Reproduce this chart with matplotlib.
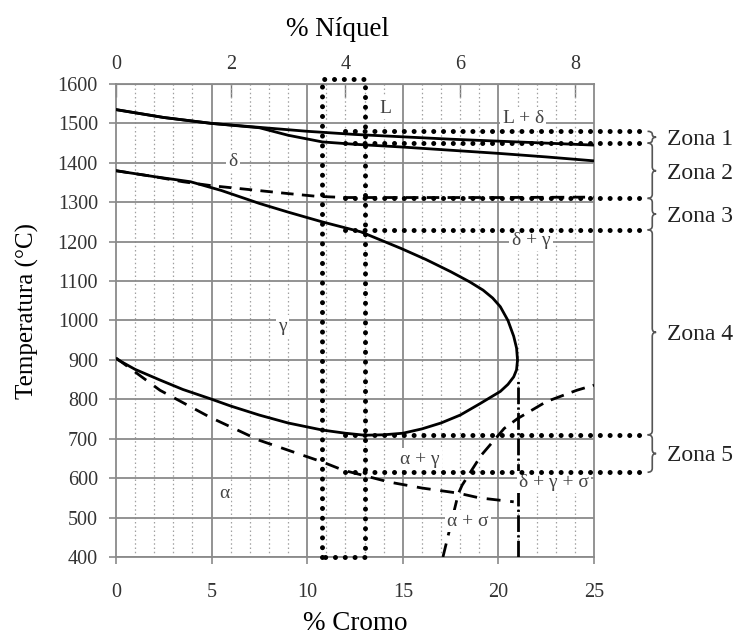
import numpy as np
import matplotlib
matplotlib.use("Agg")
import matplotlib.pyplot as plt
from matplotlib.path import Path
from matplotlib.patches import PathPatch

plt.rcParams['font.family'] = ['Liberation Serif', 'DejaVu Serif']

# ---------------- data ----------------
cr_liq = [0, 2.5, 5, 7.5, 10, 12.5, 15, 17.5, 20, 22.5, 25]
t_liq = [1535, 1515, 1500, 1490, 1480, 1472, 1466, 1460, 1455, 1450, 1445]

cr_sol = [0, 2.5, 5, 7.5, 9, 10.8, 12.5, 15, 17.5, 20, 22.5, 25]
t_sol = [1535, 1515, 1500, 1489, 1470, 1453, 1447, 1440, 1432, 1424, 1415, 1405]

cr_gam = [0, 2, 3.9, 5.5, 7.5, 9, 10.8, 12.8, 14.9, 16.2, 17.5, 18.5, 19.2, 19.7, 20.1,
          20.5, 20.8, 20.95, 21.0, 20.95, 20.8, 20.5, 20.1,
          19.0, 18.0, 17.0, 16.0, 15.0, 14.0, 13.0, 12.0, 10.8, 9.0, 7.5, 6.0, 4.9, 3.5, 2.3, 1.0, 0]
t_gam = [1380, 1365, 1352, 1330, 1297, 1275, 1250, 1225, 1183, 1155, 1124, 1098, 1077, 1057, 1035,
         1000, 960, 930, 900, 875, 857, 838, 820,
         788, 760, 740, 725, 714, 710, 709, 714, 722, 740, 760, 783, 802, 825, 849, 876, 903]

cr_dd = [0, 2, 3.5, 5, 7, 9, 10.5, 12, 15, 20, 25]
t_dd = [1380, 1365, 1352, 1342, 1332, 1322, 1315, 1312, 1312, 1312, 1313]

cr_ag = [0, 2.3, 4.9, 7.5, 10.8, 11.9, 14.3, 16, 17.9, 19, 20.8]
t_ag = [905, 823, 755, 696, 641, 620, 590, 575, 562, 550, 540]

cr_sig = [17.1, 17.5, 17.9, 18.1, 19.1, 20.3, 21, 22.5, 24.1, 25]
t_sig = [400, 480, 560, 582, 658, 726, 751, 794, 823, 836]

cr_v = [21, 21]
t_v = [400, 850]

window_cr = [10.8, 13.0]
window_t = [400, 1612]

zone_temps = [1480, 1450, 1310, 1230, 710, 615]
zone_names = ["Zona 1", "Zona 2", "Zona 3", "Zona 4", "Zona 5"]
zone_start_cr = 12.0
zone_end_cr = 27.75

phase_labels = ["L", "L + δ", "δ", "γ", "δ + γ", "α + γ", "δ + γ + σ", "α", "α + σ"]
phase_cr = [14.1, 21.3, 6.1, 8.7, 21.7, 15.9, 22.9, 5.65, 18.4]
phase_t = [1539, 1513, 1404, 986, 1204, 648, 590, 560, 491]

cr_ticks = [0, 5, 10, 15, 20, 25]
t_ticks = list(range(400, 1601, 100))
ni_ticks = [0, 2, 4, 6, 8]

# ---------------- figure ----------------
fig = plt.figure(figsize=(7.44, 6.38), dpi=100)
ax = fig.add_axes([116/744, 1-557/638, (594-116)/744, (557-84)/638])
ax.set_xlim(0, 25)
ax.set_ylim(400, 1600)

gcol = '#8a8a8a'
for x in range(1, 25):
    if x % 5:
        ax.axvline(x, color='#a0a0a0', lw=0.9, ls=(0, (1.2, 2.2)), zorder=1)
for x in [5, 10, 15, 20]:
    ax.axvline(x, color=gcol, lw=1.3, zorder=1)
for t in t_ticks:
    ax.axhline(t, color=gcol, lw=1.3, zorder=1)
for s in ax.spines.values():
    s.set_color(gcol)
    s.set_linewidth(1.3)

ax.set_xticks(cr_ticks)
ax.set_yticks(t_ticks)
ax.tick_params(axis='x', length=5, width=1.2, color=gcol, pad=14, labelsize=14.5, labelcolor='#333333')
ax.tick_params(axis='y', length=5, width=1.2, color=gcol, pad=8, labelsize=14.5, labelcolor='#333333')

sec = ax.secondary_xaxis('top', functions=(lambda c: np.asarray(c) / 3.0, lambda n: np.asarray(n) * 3.0))
sec.set_xticks(ni_ticks)
sec.tick_params(direction='in', length=9, width=1.0, color='#777777', pad=7, labelsize=14.5, labelcolor='#333333')
sec.spines['top'].set_color(gcol)

lw = 2.0
ax.plot(cr_liq, t_liq, color='black', lw=lw, zorder=4)
ax.plot(cr_sol, t_sol, color='black', lw=lw, zorder=4)
ax.plot(cr_gam, t_gam, color='black', lw=lw, zorder=4)
ax.plot(cr_dd, t_dd, color='black', lw=lw, dashes=(4.5, 3), zorder=4)
ax.plot(cr_ag, t_ag, color='black', lw=lw, dashes=(5, 3.5), zorder=4)
ax.plot(cr_sig, t_sig, color='black', lw=lw, dashes=(5, 3), zorder=4)
ax.plot(cr_v, t_v, color='black', lw=lw, dashes=(6, 1.2, 0.8, 1.2), zorder=4)

dot = dict(color='black', lw=3.6, ls=(0, (0.01, 1.95)), dash_capstyle='round',
           solid_capstyle='round', clip_on=False, zorder=6)
# window rectangle
ax.plot([window_cr[0], window_cr[0], window_cr[1], window_cr[1], window_cr[0]],
        [window_t[0], window_t[1], window_t[1], window_t[0], window_t[0]], **dot)
# zone lines
for zt in zone_temps:
    ax.plot([zone_start_cr, zone_end_cr], [zt, zt], **dot)

# braces
def brace(y_top, y_bot, x0=27.8, w=0.45):
    xm = x0 + w * 0.55
    xt = x0 + w
    ym = (y_top + y_bot) / 2
    r = min(10, (y_top - y_bot) / 4)
    verts = [(x0, y_top), (xm, y_top), (xm, y_top - r),
             (xm, ym + r), (xm, ym), (xt, ym),
             (xm, ym), (xm, ym - r),
             (xm, y_bot + r), (xm, y_bot), (x0, y_bot)]
    codes = [Path.MOVETO, Path.CURVE3, Path.CURVE3,
             Path.LINETO, Path.CURVE3, Path.CURVE3,
             Path.CURVE3, Path.CURVE3,
             Path.LINETO, Path.CURVE3, Path.CURVE3]
    p = PathPatch(Path(verts, codes), fill=False, ec='#555555', lw=1.2,
                  transform=ax.transData, clip_on=False, zorder=6)
    ax.add_patch(p)
    return ym

bounds = [(zone_temps[i], zone_temps[i + 1]) for i in range(len(zone_temps) - 1)]
for name, (yt, yb) in zip(zone_names, bounds):
    ym = brace(yt, yb)
    ax.text(28.8, ym - 6, name, fontsize=17, va='center', ha='left',
            color='#222222', clip_on=False)

for lab, c, t in zip(phase_labels, phase_cr, phase_t):
    ax.text(c, t, lab, fontsize=14, ha='center', va='center', color='#444444', zorder=5,
            bbox=dict(boxstyle='square,pad=0.12', fc='white', ec='none'))

fig.text(337/744, 1-30/638, "% Níquel", fontsize=19.5, ha='center', va='center')
fig.text(355/744, 1-624/638, "% Cromo", fontsize=19.5, ha='center', va='center')
fig.text(27/744, 1-311/638, "Temperatura (°C)", fontsize=18, ha='center', va='center',
         rotation=90)

fig.savefig("out.png", dpi=100)
